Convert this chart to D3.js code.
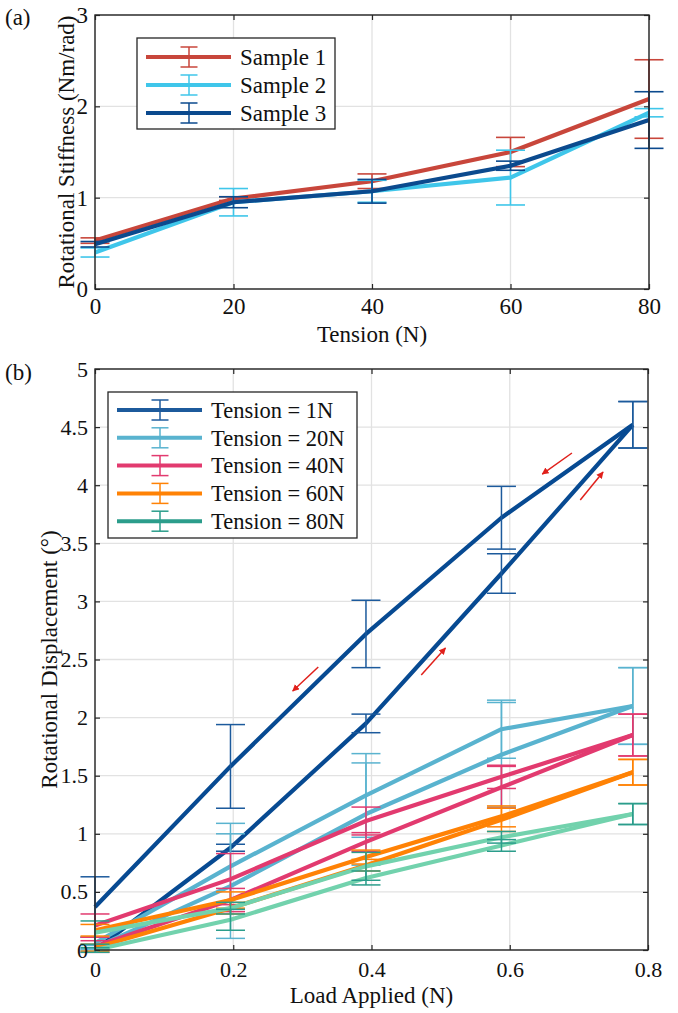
<!DOCTYPE html>
<html><head><meta charset="utf-8">
<script src="https://cdn.jsdelivr.net/npm/d3@7"></script>
<style>
body{margin:0;background:#fff}
svg{display:block}
</style>
</head><body><svg id="c" width="678" height="1013"></svg>
<script>
// ---------- Panel (a) data ----------
const tensionA = [0, 20, 40, 60, 80];
const sampleNames = ["Sample 1", "Sample 2", "Sample 3"];
const sample1 = [0.53, 0.99, 1.18, 1.50, 2.08];
const sample1Err = [0.03, 0.02, 0.08, 0.16, 0.43];
const sample2 = [0.40, 0.95, 1.07, 1.22, 1.93];
const sample2Err = [0.05, 0.15, 0.12, 0.30, 0.045];
const sample3 = [0.49, 0.95, 1.07, 1.35, 1.85];
const sample3Err = [0.03, 0.06, 0.13, 0.05, 0.31];
const xTicksA = [0, 20, 40, 60, 80];
const yTicksA = [0, 1, 2, 3];

// ---------- Panel (b) data ----------
const loadApplied = [0, 0.196, 0.392, 0.588, 0.778];
const tensionNames = ["Tension = 1N", "Tension = 20N", "Tension = 40N", "Tension = 60N", "Tension = 80N"];
const load1 = [0.00, 0.88, 1.95, 3.24, 4.52];
const loadErr1 = [0.00, 0.03, 0.08, 0.17, 0.20];
const unload1 = [0.37, 1.58, 2.72, 3.72, 4.52];
const unloadErr1 = [0.26, 0.36, 0.29, 0.27, 0.20];
const load20 = [0.02, 0.55, 1.17, 1.68, 2.10];
const loadErr20 = [0.02, 0.45, 0.44, 0.45, 0.33];
const unload20 = [0.06, 0.72, 1.33, 1.90, 2.10];
const unloadErr20 = [0.05, 0.37, 0.36, 0.25, 0.33];
const load40 = [0.03, 0.43, 0.93, 1.40, 1.85];
const loadErr40 = [0.05, 0.10, 0.08, 0.18, 0.18];
const unload40 = [0.21, 0.61, 1.11, 1.49, 1.85];
const unloadErr40 = [0.10, 0.22, 0.12, 0.10, 0.18];
const load60 = [0.02, 0.36, 0.73, 1.12, 1.53];
const loadErr60 = [0.03, 0.05, 0.05, 0.10, 0.11];
const unload60 = [0.17, 0.43, 0.80, 1.15, 1.53];
const unloadErr60 = [0.05, 0.07, 0.06, 0.09, 0.11];
const load80 = [0.00, 0.26, 0.62, 0.90, 1.17];
const loadErr80 = [0.02, 0.09, 0.06, 0.05, 0.09];
const unload80 = [0.15, 0.36, 0.72, 0.97, 1.17];
const unloadErr80 = [0.10, 0.05, 0.12, 0.05, 0.09];
const xTicksB = [0, 0.2, 0.4, 0.6, 0.8];
const yTicksB = [0, 0.5, 1, 1.5, 2, 2.5, 3, 3.5, 4, 4.5, 5];
// direction arrows (data coords: [x0, y0, x1, y1])
const arrowsB = [[0.690, 4.277, 0.647, 4.096], [0.702, 3.873, 0.735, 4.114],
                 [0.323, 2.435, 0.286, 2.229], [0.472, 2.367, 0.507, 2.599]];

// ---------- styling ----------
const FONT = "Liberation Serif";
const colorsA = ["#c8463b", "#3fc6ea", "#0b4a8e"];
const colorsB = ["#074a92", "#59b3cf", "#e23a6f", "#ff8205", "#72d2ad"];
const barColorsB = ["#1c5a9c", "#59b3cf", "#e23a6f", "#ff8205", "#2b9d8b"];

const svg = d3.select("#c");
const defs = svg.append("defs");
defs.append("marker").attr("id", "arr").attr("viewBox", "0 0 10 10")
  .attr("refX", 9).attr("refY", 5).attr("markerWidth", 7).attr("markerHeight", 7)
  .attr("orient", "auto").attr("markerUnits", "userSpaceOnUse")
  .append("path").attr("d", "M0,0 L10,5 L0,10 z").attr("fill", "#e0201b");

function grid(g, box, x, y, xt, yt) {
  const gg = g.append("g");
  gg.selectAll(".gx").data(xt).join("line")
    .attr("x1", d => x(d)).attr("x2", d => x(d)).attr("y1", box.t).attr("y2", box.b)
    .attr("stroke", "#e2e2e2").attr("stroke-width", 1.3);
  gg.selectAll(".gy").data(yt).join("line")
    .attr("y1", d => y(d)).attr("y2", d => y(d)).attr("x1", box.l).attr("x2", box.r)
    .attr("stroke", "#e2e2e2").attr("stroke-width", 1.3);
}

function frame(g, box, x, y, xt, yt, fs, padX) {
  const st = s => { s.select(".domain").remove();
    s.attr("font-family", FONT);
    s.selectAll(".tick line").attr("stroke", "#262626").attr("stroke-width", 1.2);
    s.selectAll("text").attr("font-size", fs).attr("fill", "#111").attr("font-family", FONT); };
  g.append("g").attr("transform", `translate(0,${box.b})`)
    .call(d3.axisBottom(x).tickValues(xt).tickSize(-5).tickSizeOuter(0).tickPadding(padX).tickFormat(d3.format("~g"))).call(st);
  g.append("g").attr("transform", `translate(0,${box.t})`)
    .call(d3.axisTop(x).tickValues(xt).tickSize(-5).tickSizeOuter(0).tickFormat("")).call(st);
  g.append("g").attr("transform", `translate(${box.l},0)`)
    .call(d3.axisLeft(y).tickValues(yt).tickSize(-5).tickSizeOuter(0).tickPadding(7).tickFormat(d3.format("~g"))).call(st);
  g.append("g").attr("transform", `translate(${box.r},0)`)
    .call(d3.axisRight(y).tickValues(yt).tickSize(-5).tickSizeOuter(0).tickFormat("")).call(st);
  g.append("rect").attr("x", box.l).attr("y", box.t).attr("width", box.r - box.l).attr("height", box.b - box.t)
    .attr("fill", "none").attr("stroke", "#262626").attr("stroke-width", 1.4);
}

function errBars(g, xs, vals, errs, x, y, color, cap, w) {
  xs.forEach((xv, i) => {
    const e = errs[i];
    if (e <= 0) return;
    const px = x(xv), y0 = y(vals[i] - e), y1 = y(vals[i] + e);
    g.append("line").attr("x1", px).attr("x2", px).attr("y1", y0).attr("y2", y1).attr("stroke", color).attr("stroke-width", w);
    [y0, y1].forEach(yy => g.append("line").attr("x1", px - cap).attr("x2", px + cap).attr("y1", yy).attr("y2", yy)
      .attr("stroke", color).attr("stroke-width", w));
  });
}

function legend(g, bx, by, bw, bh, rows, dy, names, lineColors, barColors, fs) {
  g.append("rect").attr("x", bx).attr("y", by).attr("width", bw).attr("height", bh)
    .attr("fill", "#fff").attr("stroke", "#262626").attr("stroke-width", 1.3);
  names.forEach((n, i) => {
    const yy = by + rows + i * dy;
    g.append("line").attr("x1", bx + 9).attr("x2", bx + 94).attr("y1", yy).attr("y2", yy)
      .attr("stroke", lineColors[i]).attr("stroke-width", 4);
    const cx = bx + 52;
    g.append("line").attr("x1", cx).attr("x2", cx).attr("y1", yy - 10).attr("y2", yy + 10).attr("stroke", barColors[i]).attr("stroke-width", 1.5);
    [yy - 10, yy + 10].forEach(c => g.append("line").attr("x1", cx - 8.5).attr("x2", cx + 8.5).attr("y1", c).attr("y2", c)
      .attr("stroke", barColors[i]).attr("stroke-width", 1.5));
    g.append("text").attr("x", bx + 103).attr("y", yy).attr("dy", "0.35em").attr("font-size", fs)
      .attr("font-family", FONT).attr("fill", "#111").text(n);
  });
}

function label(g, x, y, txt, fs, anchor, rot) {
  const t = g.append("text").attr("font-size", fs).attr("font-family", FONT).attr("fill", "#111")
    .attr("text-anchor", anchor).text(txt);
  if (rot) t.attr("transform", `translate(${x},${y}) rotate(-90)`); else t.attr("x", x).attr("y", y);
  return t;
}

// ================= Panel (a) =================
{
  const box = {l: 95, r: 649, t: 15, b: 289};
  const x = d3.scaleLinear().domain([0, 80]).range([box.l, box.r]);
  const y = d3.scaleLinear().domain([0, 3]).range([box.b, box.t]);
  const g = svg.append("g");
  grid(g, box, x, y, xTicksA, yTicksA);
  const series = [[sample1, sample1Err], [sample2, sample2Err], [sample3, sample3Err]];
  const line = d3.line().x((d, i) => x(tensionA[i])).y(d => y(d));
  series.forEach(([v, e], k) => {
    g.append("path").attr("d", line(v)).attr("fill", "none").attr("stroke", colorsA[k])
      .attr("stroke-width", 4.2).attr("stroke-linejoin", "round");
    errBars(g, tensionA, v, e, x, y, colorsA[k], 14.5, 1.6);
  });
  frame(g, box, x, y, xTicksA, yTicksA, 23, 9);
  legend(g, 137, 38, 198, 91, 19, 28, sampleNames, colorsA, colorsA, 23);
  label(g, (box.l + box.r) / 2, 342, "Tension (N)", 23, "middle", false);
  label(g, 74, (box.t + box.b) / 2, "Rotational Stiffness (Nm/rad)", 23, "middle", true);
  label(g, 5, 25, "(a)", 23, "start", false);
}

// ================= Panel (b) =================
{
  const box = {l: 95, r: 648, t: 369, b: 950};
  const x = d3.scaleLinear().domain([0, 0.8]).range([box.l, box.r]);
  const y = d3.scaleLinear().domain([0, 5]).range([box.b, box.t]);
  const g = svg.append("g");
  grid(g, box, x, y, xTicksB, yTicksB);
  const series = [
    [load1, loadErr1, unload1, unloadErr1],
    [load20, loadErr20, unload20, unloadErr20],
    [load40, loadErr40, unload40, unloadErr40],
    [load60, loadErr60, unload60, unloadErr60],
    [load80, loadErr80, unload80, unloadErr80]];
  const line = d3.line().x((d, i) => x(loadApplied[i])).y(d => y(d));
  series.forEach(([lv, le, uv, ue], k) => {
    [lv, uv].forEach(v => g.append("path").attr("d", line(v)).attr("fill", "none").attr("stroke", colorsB[k])
      .attr("stroke-width", 4.2).attr("stroke-linejoin", "round"));
    errBars(g, loadApplied, lv, le, x, y, barColorsB[k], 14.5, 1.5);
    errBars(g, loadApplied, uv, ue, x, y, barColorsB[k], 14.5, 1.5);
  });
  arrowsB.forEach(a => g.append("line").attr("x1", x(a[0])).attr("y1", y(a[1])).attr("x2", x(a[2])).attr("y2", y(a[3]))
    .attr("stroke", "#e0201b").attr("stroke-width", 1.5).attr("marker-end", "url(#arr)"));
  frame(g, box, x, y, xTicksB, yTicksB, 22, 11);
  legend(g, 108, 392, 249, 146, 18, 27.8, tensionNames, barColorsB.map((c, i) => i === 1 ? colorsB[1] : c), barColorsB, 22.5);
  label(g, (box.l + box.r) / 2, 1003, "Load Applied (N)", 23, "middle", false);
  label(g, 57, (box.t + box.b) / 2, "Rotational Displacement (°)", 23, "middle", true);
  label(g, 5, 380, "(b)", 23, "start", false);
}
</script></body></html>
